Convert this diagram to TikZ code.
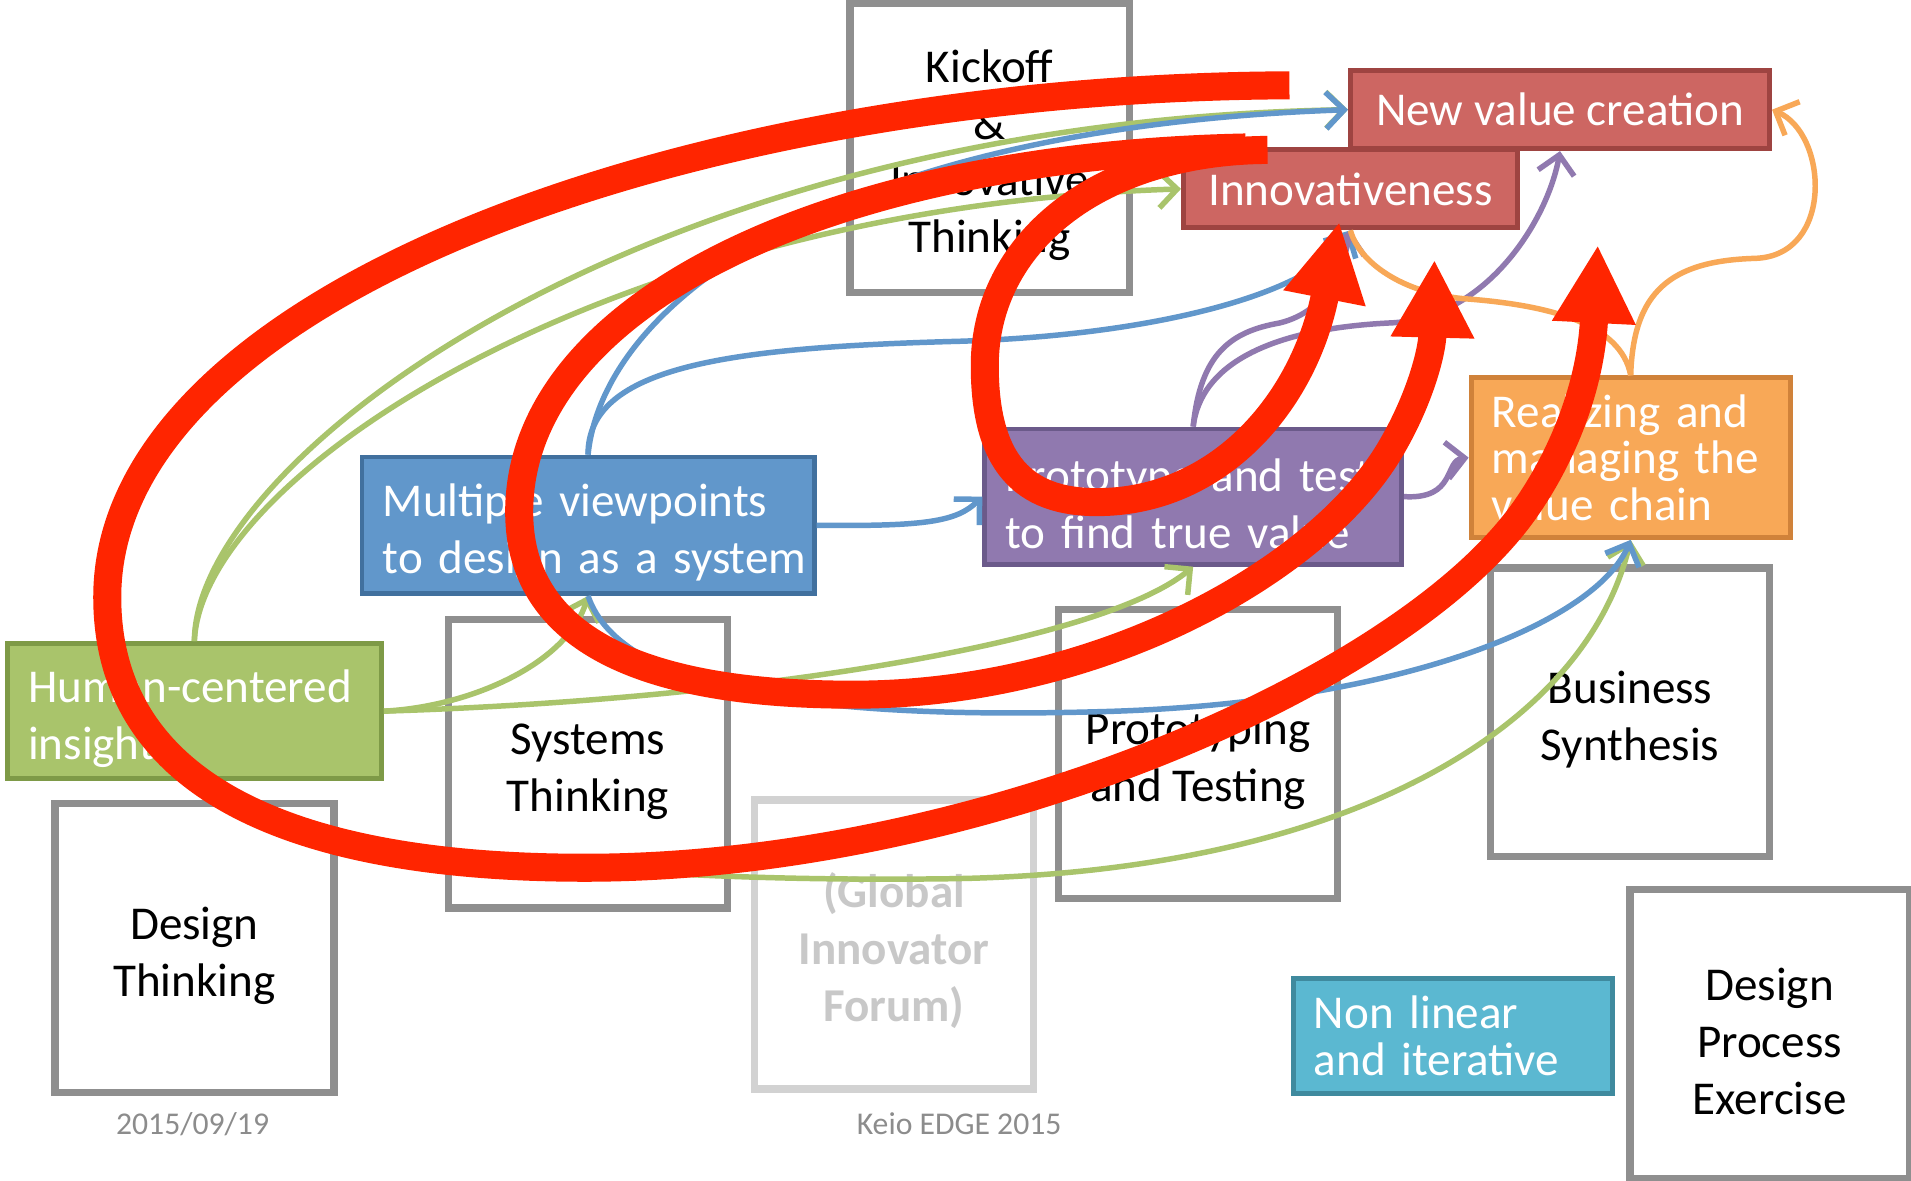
\documentclass[tikz,border=0pt]{standalone}
\usepackage{fontspec}
\setmainfont{Carlito}
\usetikzlibrary{arrows.meta}
\definecolor{gboxc}{HTML}{8F8F8F}
\definecolor{gifc}{HTML}{D2D2D2}
\definecolor{giftext}{HTML}{C8C8C8}
\definecolor{redfill}{HTML}{CD6662}
\definecolor{redborder}{HTML}{9E4441}
\definecolor{bluefill}{HTML}{6197CB}
\definecolor{blueborder}{HTML}{41709E}
\definecolor{greenfill}{HTML}{A9C46B}
\definecolor{greenborder}{HTML}{7E9A47}
\definecolor{purplefill}{HTML}{9079AF}
\definecolor{purpleborder}{HTML}{6B5A8A}
\definecolor{orangefill}{HTML}{F8A857}
\definecolor{orangeborder}{HTML}{D0823A}
\definecolor{cyanfill}{HTML}{5BB8D1}
\definecolor{cyanborder}{HTML}{3F8A9E}
\definecolor{bigred}{HTML}{FF2500}
\definecolor{footgray}{HTML}{8C8C8C}
\newcommand{\lifttext}{\rule{0pt}{22pt}}
\begin{document}
\begin{tikzpicture}[x=0.02cm,y=-0.02cm,
  font=\fontsize{22}{26.5}\selectfont,
  graybox/.style={draw=gboxc, line width=0.12cm, minimum width=4.58cm, minimum height=4.74cm, inner sep=0pt, align=center, text=black},
  cbox/.style={line width=0.08cm, inner sep=0pt, text=white},
  lbox/.style={cbox, align=left, inner xsep=0.34cm},
  tightlead/.style={font=\fontsize{22}{21.8}\selectfont},
  conn/.style={line width=0.09cm},
  tipo/.style={-{Straight Barb[length=0.3cm,width=0.6cm]}},
  redloop/.style={draw=bigred, line width=0.46cm, line cap=butt, -{Triangle[length=1.28cm,width=1.28cm]}},
  foot/.style={font=\fontsize{14.8}{17}\selectfont, text=footgray}
]
\fill[white] (0,0) rectangle (1568,969);
\path[use as bounding box] (0,0) rectangle (1568,969);

% gray boxes
\node[graybox] (kick) at (812,121.5) {\lifttext Kickoff\\\&\\Innovative\\Thinking};
\node[graybox] (sys) at (482.5,626.5) {\lifttext Systems\\Thinking};
\node[graybox] (dt) at (159.5,778) {\lifttext Design\\Thinking};
\node[graybox, draw=gifc, text=giftext, font={\fontsize{22}{26.5}\selectfont\bfseries}] (gif) at (733.5,775) {\lifttext (Global\\Innovator\\Forum)};
\node[graybox] (proto) at (983,618.5) {\lifttext Prototyping\\and Testing};
\node[graybox] (bs) at (1337.5,584.5) {\lifttext Business\\Synthesis};
\node[graybox] (dpe) at (1452,848.5) {\lifttext Design\\Process\\Exercise};

% coloured boxes
\node[cbox, fill=redfill, draw=redborder, minimum width=5.48cm, minimum height=1.28cm] (inn) at (1108,155) {Innovativeness};
\node[cbox, fill=redfill, draw=redborder, minimum width=6.88cm, minimum height=1.28cm] (nvc) at (1280,90) {New value creation};
\node[lbox, fill=bluefill, draw=blueborder, text width=6.74cm, minimum height=2.24cm] (mv) at (482.5,431) {\lifttext\mbox{Multiple viewpoints}\\\mbox{to design as a system}};
\node[lbox, fill=greenfill, draw=greenborder, text width=5.46cm, minimum height=2.22cm] (hc) at (159.5,583.5) {\lifttext\mbox{Human-centered}\\\mbox{insight}};
\node[lbox, fill=purplefill, draw=purpleborder, text width=6.16cm, minimum height=2.22cm] (pt) at (979,407.5) {\lifttext\mbox{Prototype and test}\\\mbox{to find true value}};
\node[lbox, tightlead, fill=orangefill, draw=orangeborder, text width=4.56cm, minimum height=2.62cm] (rv) at (1338,375.5) {\mbox{Realizing and}\\\mbox{managing the}\\\mbox{value chain}};
\node[lbox, tightlead, fill=cyanfill, draw=cyanborder, text width=4.56cm, minimum height=1.88cm] (nl) at (1192,850) {\mbox{Non linear}\\\mbox{and iterative}};

% footer
\node[foot] (date) at (158,922) {2015/09/19};
\node[foot] (keio) at (787,922) {Keio EDGE 2015};

% green connectors
\draw[conn, greenfill, tipo] (hc.north) .. controls (160,380) and (520,100) .. (nvc.west);
\draw[conn, greenfill, tipo] (hc.north) .. controls (165,390) and (500,170) .. (inn.west);
\draw[conn, greenfill, tipo] (hc.east) .. controls (385,580) and (465,545) .. (mv.south);
\draw[conn, greenfill, tipo] (hc.east) .. controls (600,575) and (900,530) .. (pt.south);
\draw[conn, greenfill, tipo] (hc.south) .. controls (250,695) and (480,725) .. (780,721) .. controls (1100,716) and (1300,600) .. (rv.south);

% blue connectors
\draw[conn, bluefill, tipo] (mv.north) .. controls (495,250) and (680,105) .. (nvc.west);
\draw[conn, bluefill, tipo] (mv.north) .. controls (482,300) and (600,285) .. (788,280) .. controls (950,275) and (1080,240) .. (inn.south);
\draw[conn, bluefill, tipo] (mv.east) .. controls (760,432) and (785,428) .. (pt.west);
\draw[conn, bluefill, tipo] (mv.south) .. controls (510,570) and (680,590) .. (900,584) .. controls (1150,578) and (1310,510) .. (rv.south);

% purple connectors
\draw[conn, purplefill, tipo] (pt.north) .. controls (985,290) and (1010,272) .. (1050,265) .. controls (1090,255) and (1102,220) .. (inn.south);
\draw[conn, purplefill, tipo] (pt.north) .. controls (985,300) and (1040,270) .. (1140,265) .. controls (1220,262) and (1270,180) .. (nvc.south);
\draw[conn, purplefill, tipo] (pt.east) .. controls (1195,410) and (1185,378) .. (rv.west);

% orange connectors
\draw[conn, orangefill, tipo] (rv.north) .. controls (1340,240) and (1370,214) .. (1440,212) .. controls (1505,210) and (1500,110) .. (nvc.east);
\draw[conn, orangefill] (rv.north) .. controls (1330,265) and (1270,250) .. (1200,245) .. controls (1150,240) and (1115,215) .. (inn.south);

% red loops
\draw[redloop] (1058,70) .. controls (560,72) and (88,245) .. (88,490)
  .. controls (88,640) and (230,712) .. (480,712)
  .. controls (800,712) and (1150,560) .. (1250,420)
  .. controls (1280,378) and (1305,320) .. (1311,201);
\draw[redloop] (1022,121) .. controls (680,128) and (426,250) .. (426,420)
  .. controls (426,540) and (560,570) .. (700,570)
  .. controls (900,570) and (1080,470) .. (1140,370)
  .. controls (1164,330) and (1175,290) .. (1177,213);
\draw[redloop] (1040,123) .. controls (900,124) and (808,200) .. (808,300)
  .. controls (808,380) and (840,412) .. (900,412)
  .. controls (1000,412) and (1070,330) .. (1099,182);
\end{tikzpicture}
\end{document}
